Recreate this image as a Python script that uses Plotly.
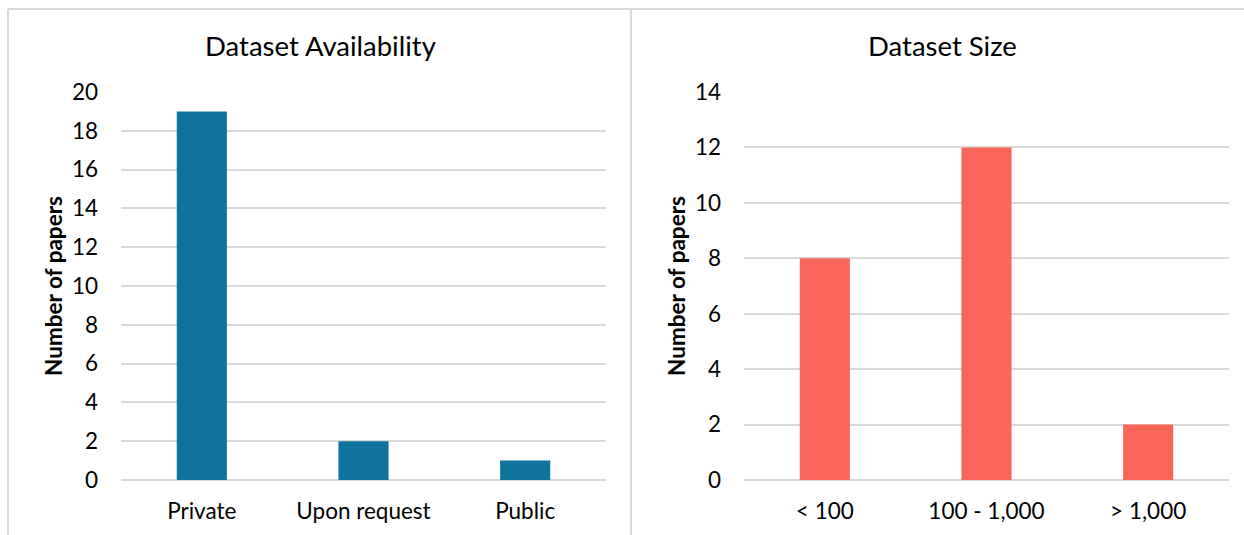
import plotly.graph_objects as go
from plotly.subplots import make_subplots

# Data
availability_labels = ["Private", "Upon request", "Public"]
availability_counts = [19, 2, 1]
size_labels = ["< 100", "100 - 1,000", "> 1,000"]
size_counts = [8, 12, 2]

W, H = 1244, 535
BLUE = "#0F739E"
RED = "#F8665A"
GRID = "#D9D9D9"
FONT = "Lato, 'Open Sans', sans-serif"
TICK = 22.5

fig = make_subplots(rows=1, cols=2)
fig.add_trace(go.Bar(x=availability_labels, y=availability_counts, marker_color=BLUE,
                     marker_line_width=0, showlegend=False), row=1, col=1)
fig.add_trace(go.Bar(x=size_labels, y=size_counts, marker_color=RED,
                     marker_line_width=0, showlegend=False), row=1, col=2)

ydom = [1 - 480 / H, 1 - 92 / H]
fig.update_layout(
    width=W, height=H, margin=dict(l=0, r=0, t=0, b=0, autoexpand=False),
    paper_bgcolor="white", plot_bgcolor="white",
    bargap=0.69,
    font=dict(family=FONT, size=TICK, color="#000000"),
    xaxis=dict(domain=[121 / W, 606 / W]),
    xaxis2=dict(domain=[744 / W, 1229 / W]),
    yaxis=dict(domain=ydom, range=[0, 20], dtick=2),
    yaxis2=dict(domain=ydom, range=[0, 14], dtick=2),
)
fig.update_xaxes(automargin=False, showgrid=False, showline=False, zeroline=False, ticks="",
                 ticklabelstandoff=15, tickfont=dict(size=TICK))
fig.update_yaxes(automargin=False, showgrid=True, gridcolor=GRID, gridwidth=1.5, zeroline=True,
                 zerolinecolor=GRID, zerolinewidth=1.5, showline=False, ticks="",
                 ticklabelstandoff=22, tickfont=dict(size=TICK),
                 title=dict(text="<b>Number of papers</b>", font=dict(size=TICK), standoff=3))

# Panel titles
for x, text in [(320 / W, "Dataset Availability"), (942 / W, "Dataset Size")]:
    fig.add_annotation(x=x, y=1 - 45 / H, xref="paper", yref="paper", text=text,
                       showarrow=False, font=dict(size=27.5), xanchor="center", yanchor="middle")

# Panel borders
border = dict(color=GRID, width=2)
fig.add_shape(type="line", xref="paper", yref="paper", x0=8 / W, x1=8 / W, y0=0, y1=1 - 9 / H, line=border)
fig.add_shape(type="line", xref="paper", yref="paper", x0=8 / W, x1=1, y0=1 - 9 / H, y1=1 - 9 / H, line=border)
fig.add_shape(type="line", xref="paper", yref="paper", x0=631 / W, x1=631 / W, y0=0, y1=1 - 9 / H, line=border)

fig.write_html("out.html")
